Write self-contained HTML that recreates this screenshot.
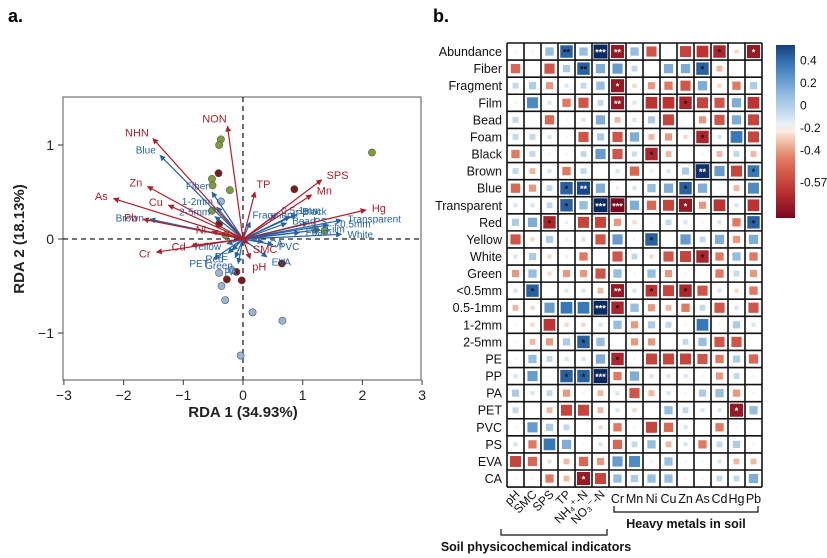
<!DOCTYPE html>
<html><head><meta charset="utf-8">
<style>
html,body{margin:0;padding:0;background:#fff;}
svg{display:block;font-family:"Liberation Sans",Arial,sans-serif;}
</style></head>
<body>
<svg id="fig" width="827" height="558" viewBox="0 0 827 558">
  <text x="8" y="22" font-size="18" font-weight="bold">a.</text>
  <text x="433" y="22" font-size="18" font-weight="bold">b.</text>
  <g id="rda"></g>
  <g id="heat"></g>
</svg>
<script>
// ---------- RDA data ----------
const envNames = ["NON","NHN","Zn","As","Cu","Pb","Ni","Cr","Cd","TP","SPS","Mn","Hg","SMC","pH"];
const envX = [-0.26,-1.51,-1.60,-2.17,-1.25,-1.67,-0.52,-1.45,-0.86,0.20,1.32,1.15,2.06,0.09,0.12];
const envY = [1.20,1.07,0.56,0.43,0.36,0.21,0.08,-0.14,-0.07,0.50,0.63,0.47,0.31,-0.05,-0.21];
const mpNames = ["Blue","Brown","Fiber","1-2mm","2-5mm","Fragment","0.5-1mm","PP","Black","Bead","PS","Transparent","<0.5mm","White","Film","Foam","CA","PVC","EVA","Yellow","PET","Red","Green","PA","PE"];
const mpX = [-1.39,-1.56,-0.52,-0.44,-0.47,0.12,0.56,0.79,0.90,0.73,1.09,1.65,1.43,1.65,1.29,0.95,0.34,0.50,0.40,-0.27,-0.49,-0.25,-0.13,-0.08,-0.18];
const mpY = [0.89,0.21,0.50,0.34,0.24,0.18,0.26,0.24,0.26,0.17,0.17,0.20,0.15,0.05,0.10,0.07,-0.03,-0.06,-0.19,-0.05,-0.21,-0.15,-0.20,-0.26,-0.12];
const greenX = [-0.37,-0.40,-0.52,-0.51,-0.22,-0.52,-0.29,2.16,1.37,1.21];
const greenY = [1.06,1.00,0.64,0.57,0.52,0.30,0.04,0.92,0.09,0.10];
const redX = [-0.41,0.86,-0.40,0.65,-0.11,-0.02,-0.27];
const redY = [0.70,0.53,0.16,-0.26,-0.35,-0.44,-0.43];
const blueX = [-0.40,-0.36,-0.30,0.16,0.66,-0.04,-0.19,-0.37];
const blueY = [-0.36,-0.50,-0.65,-0.78,-0.87,-1.24,-0.33,0.40];
const xTicks = [-3,-2,-1,0,1,2,3];
const yTicks = [1,0,-1];

// ---------- Heatmap data ----------
const rowNames = ["Abundance","Fiber","Fragment","Film","Bead","Foam","Black","Brown","Blue","Transparent","Red","Yellow","White","Green","<0.5mm","0.5-1mm","1-2mm","2-5mm","PE","PP","PA","PET","PVC","PS","EVA","CA"];
const colNames = ["pH","SMC","SPS","TP","NH4","NO3","Cr","Mn","Ni","Cu","Zn","As","Cd","Hg","Pb"];
const corr = [
[0.02,-0.02,0.2,0.45,0.2,0.57,-0.5,0.2,-0.3,0,-0.35,-0.4,-0.45,-0.05,-0.5],
[-0.25,0,-0.3,0.15,0.45,0.25,0.3,0.1,0,0.25,0.25,0.45,-0.1,0,0],
[0.1,0.15,-0.15,0.05,0.1,0.2,-0.5,-0.05,-0.15,-0.2,-0.3,0.25,-0.05,-0.2,0.15],
[0.02,0.35,0.05,-0.2,-0.3,0.1,-0.5,0.05,-0.4,-0.4,-0.45,-0.35,-0.3,0.25,-0.4],
[0.1,0,-0.25,0.02,0.05,0.25,-0.1,0.05,0.15,-0.35,0,-0.15,-0.3,0.25,-0.35],
[0.1,0.1,0.05,0.02,-0.3,0.15,-0.3,0.25,-0.1,-0.15,-0.05,-0.45,0.05,0.4,-0.35],
[-0.2,0.1,0.02,0.02,0.1,0.3,-0.3,0.08,-0.45,-0.1,0,0.02,-0.1,0.1,-0.1],
[0.1,-0.1,0.05,-0.2,0.1,0,0.05,-0.25,0.03,0.05,0.15,0.55,0.3,-0.35,0.4],
[-0.25,-0.15,0.1,0.45,0.5,0.25,0.03,0.05,0.2,0.25,0.45,0.25,0.02,-0.1,0.35],
[0.05,0.05,0.1,0.45,0.2,0.57,-0.57,0.25,-0.25,-0.35,-0.5,-0.15,-0.4,0.05,-0.4],
[0.15,0.25,-0.45,0.03,-0.35,-0.35,-0.15,-0.05,0.02,0.1,0.05,0.02,0.05,-0.2,0.45],
[-0.3,-0.05,0.15,0.03,0.05,-0.3,0.3,0.02,0.45,0,0.3,0.1,0.25,-0.15,0.25],
[0.05,0.15,-0.05,0.03,-0.2,0,-0.3,0.1,-0.05,-0.3,-0.35,-0.45,-0.2,0.2,-0.2],
[-0.15,0.2,-0.05,-0.15,-0.15,-0.3,0.2,0.02,0.2,-0.15,0.02,0,-0.2,0.1,-0.15],
[0.05,0.45,0,0.05,0.05,-0.1,-0.5,0.05,-0.4,-0.35,-0.45,-0.3,0.05,-0.05,-0.2],
[-0.1,-0.05,0.3,0.4,0.4,0.57,-0.45,0.2,-0.15,-0.1,-0.2,0.1,-0.3,0.05,-0.3],
[0.02,-0.05,-0.4,-0.05,-0.05,0.05,0.2,-0.15,0.15,0.1,0.02,0.4,0.02,0.15,0.05],
[0.02,-0.1,-0.15,0.15,0.45,0.2,0,-0.15,-0.15,0,0.1,0.2,-0.3,-0.3,0],
[0.02,0.2,0.1,0.05,0.05,0.25,-0.45,0.02,-0.35,-0.35,-0.35,-0.3,-0.2,0.15,-0.25],
[0.05,0.3,0.02,0.45,0.45,0.57,-0.2,0.25,0.05,0.05,0.05,0.02,-0.15,0.1,0.02],
[0.15,0.05,0.1,-0.15,-0.02,-0.1,0.05,-0.3,-0.1,0.05,0.02,0.15,0.2,-0.15,0.02],
[0.1,0,-0.1,-0.35,-0.35,-0.1,0.05,-0.05,0,0.2,0.1,0.05,0.05,-0.5,0.2],
[0.02,0.3,0.15,0.1,0,-0.05,-0.2,0.02,-0.35,-0.25,0.05,0,-0.2,0.02,0],
[0.05,-0.2,0.4,0.25,0.02,0.05,-0.25,0.1,0.2,-0.1,0.05,-0.2,0.1,0.15,0.02],
[-0.35,-0.25,0.05,-0.1,-0.25,-0.15,0.3,0.35,-0.02,0.2,0.02,0.02,0.05,-0.1,-0.1],
[0.02,0.02,-0.2,-0.1,-0.5,-0.35,0.2,0.15,0.2,0.2,-0.02,0.02,0.1,0.1,0.25]
];
const stars = [
["","","","**","","***","**","","","","","","*","","*"],
["","","","","**","","","","","","","*","","",""],
["","","","","","","*","","","","","","","",""],
["","","","","","","**","","","","*","","","",""],
["","","","","","","","","","","","","","",""],
["","","","","","","","","","","","*","","",""],
["","","","","","","","","*","","","","","",""],
["","","","","","","","","","","","**","","","*"],
["","","","*","**","","","","","","*","","","",""],
["","","","*","","***","***","","","","*","","","",""],
["","","*","","","","","","","","","","","","*"],
["","","","","","","","","*","","","","","",""],
["","","","","","","","","","","","*","","",""],
["","","","","","","","","","","","","","",""],
["","*","","","","","**","","*","","*","","","",""],
["","","","","","***","*","","","","","","","",""],
["","","","","","","","","","","","","","",""],
["","","","","*","","","","","","","","","",""],
["","","","","","","*","","","","","","","",""],
["","","","*","*","***","","","","","","","","",""],
["","","","","","","","","","","","","","",""],
["","","","","","","","","","","","","","*",""],
["","","","","","","","","","","","","","",""],
["","","","","","","","","","","","","","",""],
["","","","","","","","","","","","","","",""],
["","","","","*","","","","","","","","","",""]
];
const cbTicks = [0.4,0.2,0,-0.2,-0.4,-0.57];

const NS="http://www.w3.org/2000/svg";
function mk(parent,tag,attrs,text){const e=document.createElementNS(NS,tag);for(const k in attrs)e.setAttribute(k,attrs[k]);if(text!==undefined)e.textContent=text;parent.appendChild(e);return e;}

// ---------- RDA drawing ----------
const rda=document.getElementById('rda');
const X0=63,X1=421,Y0=97,Y1=380;
const sx=v=>243+v*59.7, sy=v=>239-v*94;
const defs=mk(rda,'defs',{});
[["ahR","#b0202a"],["ahB","#2563a8"]].forEach(([id,c])=>{const m=mk(defs,'marker',{id:id,viewBox:"0 0 10 10",refX:"9",refY:"5",markerWidth:"5",markerHeight:"5",orient:"auto"});mk(m,'path',{d:"M0,0L10,5L0,10z",fill:c});});
let box=mk(rda,'rect',{x:X0,y:Y0,width:X1-X0,height:Y1-Y0,fill:"none",stroke:"#555","stroke-width":1});

mk(rda,'line',{x1:sx(0),x2:sx(0),y1:Y0,y2:Y1,stroke:"#222","stroke-dasharray":"5,4","stroke-width":1.3});
mk(rda,'line',{x1:X0,x2:X1,y1:sy(0),y2:sy(0),stroke:"#222","stroke-dasharray":"5,4","stroke-width":1.3});
xTicks.forEach(t=>{mk(rda,'line',{x1:sx(t),x2:sx(t),y1:Y1,y2:Y1+5,stroke:"#333"});
 const l=mk(rda,'text',{x:sx(t),y:Y1+20,"font-size":14,"text-anchor":"middle",fill:"#222"},t<0?"−"+(-t):String(t));
 });
yTicks.forEach(t=>{mk(rda,'line',{x1:X0-5,x2:X0,y1:sy(t),y2:sy(t),stroke:"#333"});
 const l=mk(rda,'text',{x:X0-9,y:sy(t)+5,"font-size":14,"text-anchor":"end",fill:"#222"},t<0?"−"+(-t):String(t));
 });
let xt=mk(rda,'text',{x:243,y:417,"font-size":15,"font-weight":"bold","text-anchor":"middle",fill:"#222"},"RDA 1 (34.93%)");

let yt=mk(rda,'text',{x:0,y:0,"font-size":15,"font-weight":"bold","text-anchor":"middle",fill:"#222",transform:"translate(24,239) rotate(-90)"},"RDA 2 (18.13%)");

function pts(xs,ys,fill,name){xs.forEach((x,i)=>{const c=mk(rda,'circle',{cx:sx(x),cy:sy(ys[i]),r:3.6,fill:fill,stroke:"#555","stroke-width":0.6});
 });}
pts(greenX,greenY,"#7e9e3c","sample-point-green");
pts(redX,redY,"#7a1c1c","sample-point-darkred");
pts(blueX,blueY,"#98b6da","sample-point-blue");
function arrows(names,xs,ys,col,mid,fs,nm){names.forEach((n,i)=>{const x=sx(xs[i]),y=sy(ys[i]);
 const a=mk(rda,'line',{x1:sx(0),y1:sy(0),x2:x,y2:y,stroke:col,"stroke-width":1.2,"marker-end":"url(#"+mid+")"});
 
 const dx=x-sx(0),dy=y-sy(0),L=Math.hypot(dx,dy)||1;
 const lx=x+dx/L*6,ly=y+dy/L*8+4;
 const t=mk(rda,'text',{x:lx,y:ly,"font-size":fs,fill:col,"text-anchor":dx<-4?"end":(dx>4?"start":"middle")},n);
 });}
arrows(mpNames,mpX,mpY,"#2563a8","ahB",10,"microplastic");
arrows(envNames,envX,envY,"#b0202a","ahR",11,"soil-factor");

// ---------- Heatmap drawing ----------
const heat=document.getElementById('heat');
const HX=507,HY=43,CW=17,CH=17.08;
const nC=colNames.length,nR=rowNames.length;
function color(v){
 const stops=[[-0.57,[122,8,30]],[-0.4,[190,50,50]],[-0.2,[225,120,95]],[-0.05,[248,215,195]],[0,[255,255,255]],[0.05,[215,230,242]],[0.2,[150,190,225]],[0.4,[55,120,185]],[0.57,[8,40,100]]];
 v=Math.max(-0.57,Math.min(0.57,v));
 for(let i=0;i<stops.length-1;i++){const [a,ca]=stops[i],[b,cb]=stops[i+1];if(v<=b){const t=(v-a)/(b-a);return "rgb("+ca.map((c,k)=>Math.round(c+(cb[k]-c)*t)).join(",")+")";}}
 return "rgb(8,40,100)";}
mk(heat,'rect',{x:HX,y:HY,width:CW*nC,height:CH*nR,fill:"#fff"});
for(let r=0;r<nR;r++){for(let c=0;c<nC;c++){const v=corr[r][c];
 const s=Math.max(1.5,(CW-3)*Math.sqrt(Math.abs(v)/0.57));
 const cx=HX+c*CW+CW/2,cy=HY+r*CH+CH/2;
 const q=mk(heat,'rect',{x:cx-s/2,y:cy-s/2,width:s,height:s,fill:color(v)});
 
 const st=stars[r][c];if(st){const t=mk(heat,'text',{x:cx,y:cy+4,"font-size":9,"font-weight":"bold","text-anchor":"middle",fill:Math.abs(v)>0.48?"#fff":"#111"},st);
 }}}
for(let c=0;c<=nC;c++)mk(heat,'line',{x1:HX+c*CW,x2:HX+c*CW,y1:HY,y2:HY+CH*nR,stroke:"#111","stroke-width":1.6});
for(let r=0;r<=nR;r++)mk(heat,'line',{x1:HX,x2:HX+CW*nC,y1:HY+r*CH,y2:HY+r*CH,stroke:"#111","stroke-width":1.6});
rowNames.forEach((n,r)=>{const t=mk(heat,'text',{x:HX-5,y:HY+r*CH+CH/2+4.5,"font-size":12.5,"text-anchor":"end",fill:"#111"},n);
 });
const colDisp={"NH4":"NH\u2084\u207A-N","NO3":"NO\u2083\u207B-N"};
colNames.forEach((n,c)=>{const cx=HX+c*CW+CW/2;let t;
 if(c<6){t=mk(heat,'text',{x:0,y:0,"font-size":12,"text-anchor":"end",fill:"#111",transform:"translate("+(cx+5)+","+(HY+CH*nR+8)+") rotate(-45)"},colDisp[n]||n);}
 else{t=mk(heat,'text',{x:cx,y:HY+CH*nR+16,"font-size":12.5,"text-anchor":"middle",fill:"#111"},n);}
 });
// brackets
mk(heat,'path',{d:"M614,506 V512 H758 V506",fill:"none",stroke:"#111","stroke-width":1.2});
let hm=mk(heat,'text',{x:686,y:528,"font-size":12.5,"font-weight":"bold","text-anchor":"middle",fill:"#111"},"Heavy metals in soil");

mk(heat,'path',{d:"M501,529 V535 H607 V529",fill:"none",stroke:"#111","stroke-width":1.2});
let pc=mk(heat,'text',{x:536,y:551,"font-size":12.5,"font-weight":"bold","text-anchor":"middle",fill:"#111"},"Soil physicochemical indicators");

// colorbar
const cg=mk(defs,'linearGradient',{id:"cbg",x1:"0",y1:"0",x2:"0",y2:"1"});
for(let i=0;i<=20;i++){const v=0.52-(1.09*i/20);mk(cg,'stop',{offset:(i/20),"stop-color":color(v)});}
let cb=mk(heat,'rect',{x:776,y:45,width:19,height:173,fill:"url(#cbg)"});

const cbY=v=>v<=-0.5?182:105-v*113;
cbTicks.forEach(v=>{const t=mk(heat,'text',{x:800,y:cbY(v)+4.5,"font-size":12,fill:"#111"},v>0?String(v):(v<0?"-"+(-v):"0"));
 });
</script>
</body></html>
